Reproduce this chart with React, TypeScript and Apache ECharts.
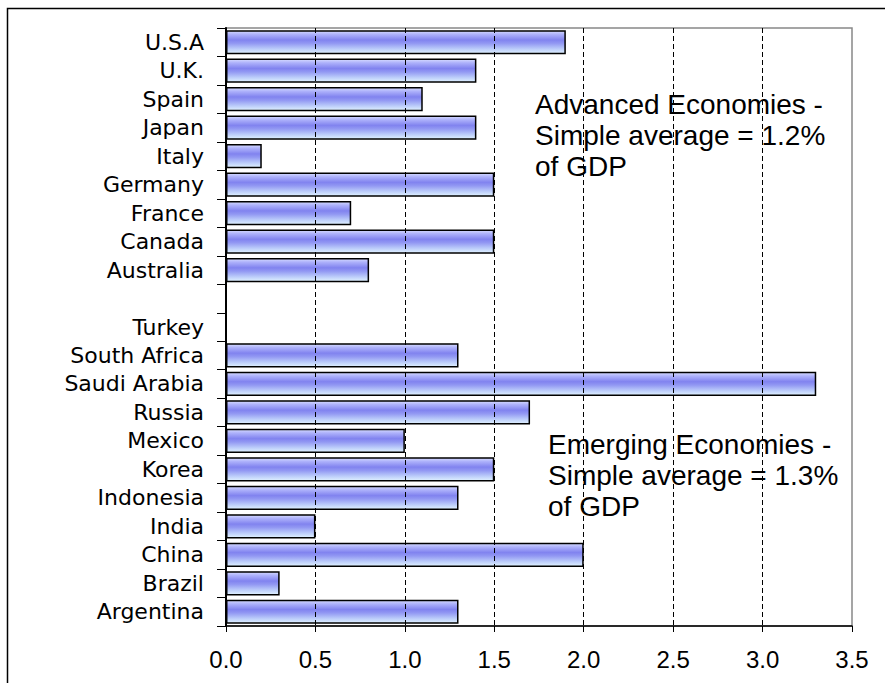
import React, { useEffect, useRef } from "react";
import * as echarts from "echarts";

const categories = [
  "U.S.A", "U.K.", "Spain", "Japan", "Italy", "Germany", "France", "Canada", "Australia",
  "", "Turkey", "South Africa", "Saudi Arabia", "Russia", "Mexico", "Korea", "Indonesia",
  "India", "China", "Brazil", "Argentina",
];
const values: (number | null)[] = [
  1.9, 1.4, 1.1, 1.4, 0.2, 1.5, 0.7, 1.5, 0.8,
  null, null, 1.3, 3.3, 1.7, 1.0, 1.5, 1.3,
  0.5, 2.0, 0.3, 1.3,
];
const advancedNote = ["Advanced Economies -", "Simple average = 1.2%", "of GDP"];
const emergingNote = ["Emerging Economies -", "Simple average = 1.3%", "of GDP"];

export default function App() {
  const ref = useRef<HTMLDivElement>(null);
  useEffect(() => {
    if (!ref.current) return;
    const chart = echarts.init(ref.current, null, { renderer: "svg" });
    const barGradient = new echarts.graphic.LinearGradient(0, 0, 0, 1, [
      { offset: 0, color: "#d6dbff" },
      { offset: 0.15, color: "#aeb2fb" },
      { offset: 0.4, color: "#8183ef" },
      { offset: 0.55, color: "#9298f3" },
      { offset: 0.8, color: "#bccdfa" },
      { offset: 1, color: "#e0f2ff" },
    ]);
    const textFont = "Liberation Sans, Arial, sans-serif";
    chart.setOption({
      animation: false,
      backgroundColor: "#ffffff",
      grid: {
        left: 226,
        right: 33,
        top: 28,
        bottom: 57,
        containLabel: false,
        show: true,
        borderColor: "#888",
        borderWidth: 1.5,
        backgroundColor: "transparent",
      },
      xAxis: {
        type: "value",
        min: 0,
        max: 3.5,
        interval: 0.5,
        z: 5,
        axisLine: { show: true, lineStyle: { color: "#000", width: 1.5 } },
        axisTick: { show: true, length: 6, lineStyle: { color: "#000", width: 1 } },
        axisLabel: {
          color: "#000",
          fontSize: 24,
          fontFamily: textFont,
          margin: 21,
          formatter: (v: number) => v.toFixed(1),
        },
        splitLine: {
          show: true,
          showMinLine: false,
          showMaxLine: false,
          lineStyle: { color: "#000", width: 1, type: [5, 3] },
        },
      },
      yAxis: {
        type: "category",
        data: categories,
        inverse: true,
        z: 5,
        axisLine: { show: true, onZero: false, lineStyle: { color: "#000", width: 2 } },
        axisTick: { show: true, length: 9, lineStyle: { color: "#000", width: 1 } },
        axisLabel: {
          color: "#000",
          fontSize: 22,
          interval: 0,
          hideOverlap: false,
          fontFamily: "DejaVu Sans, sans-serif",
          margin: 22,
        },
        splitLine: { show: false },
      },
      series: [
        {
          type: "bar",
          data: values,
          barWidth: "85%",
          itemStyle: { color: barGradient, borderColor: "#000", borderWidth: 1.5 },
        },
      ],
      graphic: [
        {
          type: "rect",
          shape: { x: 7.5, y: 8.5, width: 1000, height: 1000 },
          style: { fill: "none", stroke: "#000", lineWidth: 1.5 },
          silent: true,
        },
        {
          type: "text",
          x: 535,
          y: 89,
          style: {
            text: advancedNote.join("\n"),
            font: `28px ${textFont}`,
            lineHeight: 31,
            fill: "#000",
            verticalAlign: "top",
          },
        },
        {
          type: "text",
          x: 548,
          y: 429,
          style: {
            text: emergingNote.join("\n"),
            font: `28px ${textFont}`,
            lineHeight: 31,
            fill: "#000",
            verticalAlign: "top",
          },
        },
      ],
    });
    return () => chart.dispose();
  }, []);
  return (
    <div
      ref={ref}
      style={{ position: "absolute", left: 0, top: 0, width: 885, height: 683 }}
    />
  );
}
